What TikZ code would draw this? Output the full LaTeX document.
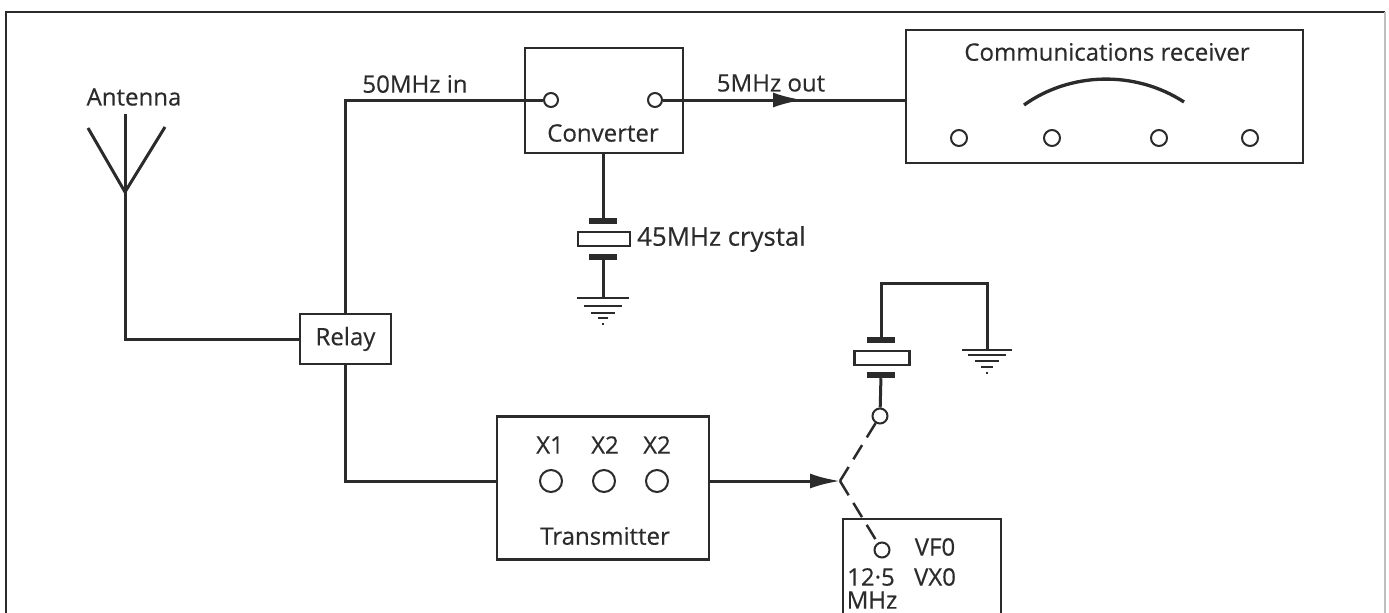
\documentclass[tikz,border=0pt]{standalone}
\usepackage{fontspec}
\setmainfont[FakeBold=0.4]{Open Sans}
\usetikzlibrary{arrows.meta,positioning}
\definecolor{ink}{gray}{0.17}

\begin{document}
\begin{tikzpicture}[x=0.03cm,y=-0.03cm,
  box/.style={draw=ink,line width=0.075cm,inner sep=0pt},
  wire/.style={draw=ink,line width=0.09cm},
  jack/.style={circle,draw=ink,line width=0.06cm,fill=white,inner sep=0pt,minimum size=0.42cm},
  bigjack/.style={jack,minimum size=0.66cm},
  plate/.style={fill=ink,inner sep=0pt,minimum width=0.84cm,minimum height=0.18cm},
  xtal/.style={box,minimum width=1.56cm,minimum height=0.42cm},
  lab/.style={font=\fontsize{20.5}{22}\selectfont,text=ink,inner sep=0pt},
  tip/.style={-{Latex[length=0.9cm,width=0.45cm]}}]
  \useasboundingbox (0,0) rectangle (1389,613);
  \draw[ink,line width=0.08cm] (6,613) -- (6,12) -- (1385,12);
  \draw[gray!50,line width=0.05cm] (1385,12) -- (1385,613);
  % boxes
  \node[box,minimum width=11.91cm,minimum height=3.99cm] (Rx) at (1104.5,96.5) {};
  \node[box,minimum width=4.74cm,minimum height=3.15cm] (Conv) at (604,100.5) {};
  \node[box,minimum width=2.73cm,minimum height=1.5cm,lab] (Relay) at (345.5,339) {Relay};
  \node[box,minimum width=6.36cm,minimum height=4.29cm] (Tx) at (603,488) {};
  \node[box,minimum width=4.74cm,minimum height=3.3cm] (Osc) at (922,574) {};
  % antenna
  \coordinate (AntTop) at (125,114);
  \coordinate (AntFoot) at (125,192);
  \coordinate (AntL) at (88,128);
  \coordinate (AntR) at (165,127);
  \node[lab] (AntLab) at (134,97) {Antenna};
  \draw[wire] (AntL) -- (AntFoot) -- (AntR);
  \draw[wire] (AntTop) -- (AntFoot) |- (Relay.west);
  % converter
  \node[jack] (ConvIn) at (551,100) {};
  \node[jack] (ConvOut) at (655,100) {};
  \node[lab] (ConvLab) at (603,133) {Converter};
  \node[lab] (InLab) at (415,84) {50MHz in};
  \node[lab] (OutLab) at (771,83) {5MHz out};
  \coordinate (RxIn) at (906,100);
  \coordinate (OutMid) at (803,100);
  \draw[wire] (Relay.north) |- (ConvIn);
  \draw[wire] (ConvOut) -- (RxIn);
  \draw[wire,tip] (ConvOut) -- (OutMid);
  % receiver
  \node[lab] (RxLab) at (1107,52) {Communications receiver};
  \foreach \x/\n in {959/a,1052/b,1159/c,1250/d}
    \node[jack,minimum size=0.48cm] (Rx\n) at (\x,138) {};
  \draw[ink,line width=0.1cm] (1024,105) .. controls (1070,72) and (1135,70) .. (1184,102);
  % crystal under converter
  \node[plate] (PlA) at (603,221) {};
  \node[xtal] (XtalA) at (604,239) {};
  \node[plate] (PlB) at (603,257) {};
  \node[lab,anchor=west,font=\fontsize{22}{24}\selectfont] (XtalLab) at (637,239) {45MHz crystal};
  \coordinate (GndA) at (603,298);
  \draw[wire] (Conv.south -| PlA) -- (PlA);
  \draw[wire] (PlB) -- (GndA);
  \foreach \w/\dy in {26/0,19/8,12/15,5/20,1/26}
    \draw[ink,line width=0.06cm] ([xshift=-\w*0.03cm,yshift=-\dy*0.03cm]GndA) -- ([xshift=\w*0.03cm,yshift=-\dy*0.03cm]GndA);
  % transmitter
  \node[lab] (XOne) at (550,445) {X1};
  \node[lab] (XTwo) at (605,445) {X2};
  \node[lab] (XThree) at (657,445) {X2};
  \foreach \x/\n in {551/a,604/b,657/c}
    \node[bigjack] (Tx\n) at (\x,481) {};
  \node[lab] (TxLab) at (605,536) {Transmitter};
  \coordinate (Pole) at (840,481);
  \draw[wire] (Relay.south) |- (Tx.west |- Pole);
  \draw[wire,tip] (Tx.east |- Pole) -- (Pole);
  % switch and second crystal
  \node[jack,minimum size=0.45cm] (SwTop) at (880,416) {};
  \node[jack,minimum size=0.45cm] (SwBot) at (882,550) {};
  \draw[ink,line width=0.075cm,dash pattern=on 0.5cm off 0.27cm] (SwTop) -- (Pole);
  \draw[ink,line width=0.075cm,dash pattern=on 0.5cm off 0.27cm] (Pole) -- (SwBot);
  \node[plate] (PlC) at (881,340) {};
  \node[xtal,minimum width=1.65cm] (XtalB) at (882,358) {};
  \node[plate] (PlD) at (881,375) {};
  \coordinate (LoopL) at (881,283);
  \coordinate (LoopR) at (987,283);
  \coordinate (GndB) at (987,350);
  \draw[wire] (PlC) -- (LoopL) -- (LoopR) -- (GndB);
  \draw[wire] (PlD) -- (SwTop);
  \foreach \w/\dy in {25/0,19/5,12/11,6/17,1/23}
    \draw[ink,line width=0.06cm] ([xshift=-\w*0.03cm,yshift=-\dy*0.03cm]GndB) -- ([xshift=\w*0.03cm,yshift=-\dy*0.03cm]GndB);
  % oscillator labels
  \node[lab] (VfoLab) at (935,547) {VF0};
  \node[lab] (VxoLab) at (935,577) {VX0};
  \node[lab] (FreqLab) at (871,577) {12·5};
  \node[lab] (MhzLab) at (872,600) {MHz};
\end{tikzpicture}
\end{document}
